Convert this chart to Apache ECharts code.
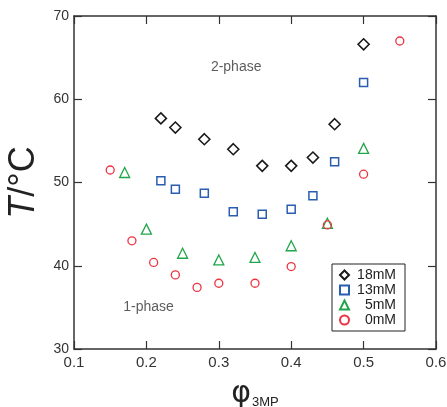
<!DOCTYPE html>
<html>
<head>
<meta charset="utf-8">
<script src="https://cdn.jsdelivr.net/npm/echarts@6/dist/echarts.min.js"></script>
<style>
  html, body { margin: 0; padding: 0; background: #fff; }
  #chart { width: 447px; height: 407px; }
</style>
</head>
<body>
<div id="chart"></div>
<script>
// phase diagram data
const xTicks = [0.1, 0.2, 0.3, 0.4, 0.5, 0.6]
const yTicks = [30, 40, 50, 60, 70]

const phi18 = [0.22, 0.24, 0.28, 0.32, 0.36, 0.40, 0.43, 0.46, 0.50]
const t18 = [57.7, 56.6, 55.2, 54.0, 52.0, 52.0, 53.0, 57.0, 66.6]

const phi13 = [0.22, 0.24, 0.28, 0.32, 0.36, 0.40, 0.43, 0.46, 0.50]
const t13 = [50.2, 49.2, 48.7, 46.5, 46.2, 46.8, 48.4, 52.5, 62.0]

const phi5 = [0.17, 0.20, 0.25, 0.30, 0.35, 0.40, 0.45, 0.50]
const t5 = [51.2, 44.4, 41.5, 40.7, 41.0, 42.4, 45.1, 54.1]

const phi0 = [0.15, 0.18, 0.21, 0.24, 0.27, 0.30, 0.35, 0.40, 0.45, 0.50, 0.55]
const t0 = [51.5, 43.0, 40.4, 38.9, 37.4, 37.9, 37.9, 39.9, 44.9, 51.0, 67.0]

const noteText = ['2-phase', '1-phase']
const notePhi = [0.324, 0.203]
const noteT = [63.8, 35.0]

const zip = (xs, ys) => xs.map((x, i) => [x, ys[i]])

const chart = echarts.init(document.getElementById('chart'), null, { renderer: 'canvas' })

const axisColor = '#333'
const font = 'Liberation Sans, Arial, sans-serif'

function markers(name, xs, ys, symbol, size, color, width) {
  return {
    name: name,
    type: 'scatter',
    xAxisIndex: 0,
    yAxisIndex: 0,
    data: zip(xs, ys),
    symbol: symbol,
    symbolSize: size,
    itemStyle: { color: 'rgba(255,255,255,0)', borderColor: color, borderWidth: width, opacity: 1 },
    emphasis: { disabled: true },
    z: 3
  }
}

const xBase = {
  type: 'value',
  min: 0.1,
  max: 0.6,
  interval: 0.1,
  splitLine: { show: false },
  axisLine: { show: true, onZero: false, lineStyle: { color: axisColor, width: 1.5 } },
  axisTick: { show: true, inside: true, length: 8, lineStyle: { color: axisColor, width: 1.2 } }
}
const yBase = {
  type: 'value',
  min: 30,
  max: 70,
  interval: 10,
  splitLine: { show: false },
  axisLine: { show: true, onZero: false, lineStyle: { color: axisColor, width: 1.5 } },
  axisTick: { show: true, inside: true, length: 8, lineStyle: { color: axisColor, width: 1.2 } }
}

chart.setOption({
  animation: false,
  backgroundColor: '#fff',
  grid: { left: 74, right: 11, top: 16, bottom: 58, containLabel: false, outerBoundsMode: 'none' },
  xAxis: [
    Object.assign({}, xBase, {
      position: 'bottom',
      axisLabel: {
        color: '#333', fontSize: 15, fontFamily: font, margin: 6,
        formatter: v => xTicks.includes(Math.round(v * 10) / 10) ? v.toFixed(1) : ''
      },
      name: '{phi|φ}{sub|3MP}',
      nameLocation: 'middle',
      nameGap: 30,
      nameTextStyle: {
        rich: {
          phi: { fontSize: 30, fontFamily: 'DejaVu Sans, sans-serif', color: '#222', verticalAlign: 'bottom' },
          sub: { fontSize: 13, fontFamily: font, color: '#222', verticalAlign: 'bottom', padding: [0, 0, 0, 1] }
        }
      }
    }),
    Object.assign({}, xBase, { position: 'top', axisLabel: { show: false } })
  ],
  yAxis: [
    Object.assign({}, yBase, {
      position: 'left',
      axisLabel: {
        color: '#333', fontSize: 14, fontFamily: font, margin: 5,
        formatter: v => yTicks.includes(v) ? String(v) : ''
      },
      name: '{i|T}{n|/°C}',
      nameLocation: 'middle',
      nameGap: 32,
      nameTextStyle: {
        rich: {
          i: { fontSize: 36, fontStyle: 'italic', fontFamily: font, color: '#222' },
          n: { fontSize: 36, fontFamily: font, color: '#222' }
        }
      }
    }),
    Object.assign({}, yBase, { position: 'right', axisLabel: { show: false } })
  ],
  legend: {
    data: ['18mM', '13mM', '5mM', '0mM'],
    orient: 'vertical',
    left: 332,
    top: 264,
    padding: [4, 9, 4, 7],
    itemGap: 1,
    itemWidth: 9,
    itemHeight: 9,
    backgroundColor: '#fff',
    borderColor: '#222',
    borderWidth: 1,
    borderRadius: 0,
    selectedMode: false,
    formatter: name => '{r|' + name + '}',
    textStyle: {
      color: '#222',
      fontFamily: font,
      fontSize: 14,
      rich: { r: { width: 42, align: 'right', fontSize: 14, lineHeight: 14, fontFamily: font, color: '#222' } }
    }
  },
  series: [
    markers('18mM', phi18, t18, 'diamond', 11, '#1a1a1a', 1.6),
    markers('13mM', phi13, t13, 'rect', 8, '#2a5db0', 1.5),
    markers('5mM', phi5, t5, 'triangle', 10, '#21a54a', 1.3),
    markers('0mM', phi0, t0, 'circle', 8, '#ee3340', 1.3),
    {
      name: 'notes',
      type: 'scatter',
      data: noteText.map((t, i) => ({ value: [notePhi[i], noteT[i]], name: t })),
      symbolSize: 0,
      silent: true,
      label: {
        show: true,
        position: 'inside',
        formatter: p => p.name,
        color: '#333',
        fontSize: 14,
        fontFamily: font
      },
      z: 2
    }
  ]
})
</script>
</body>
</html>
